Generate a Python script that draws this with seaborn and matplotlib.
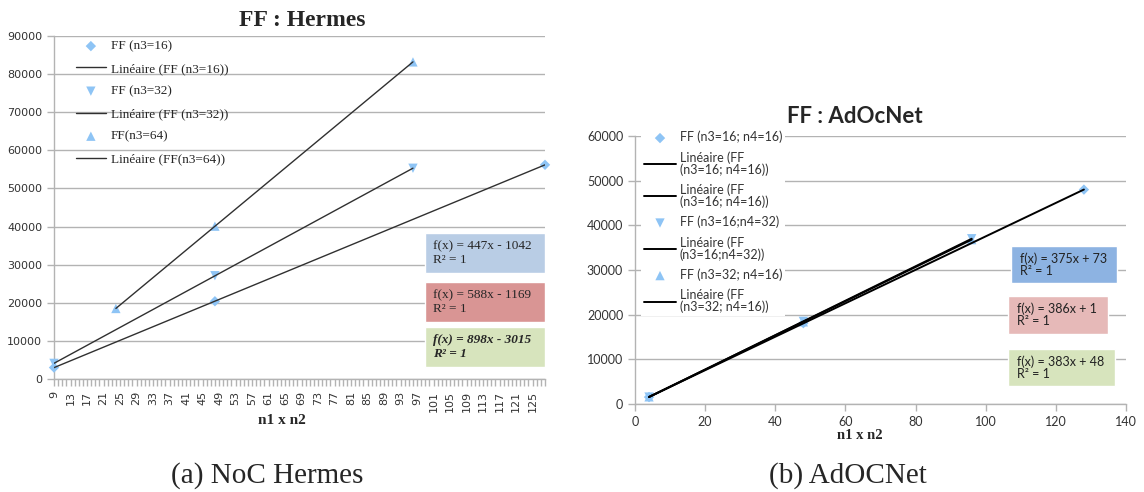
import numpy as np
import pandas as pd
import seaborn as sns
import matplotlib.pyplot as plt
from matplotlib.patches import Rectangle

sns.set_theme(style="white")
plt.rcParams['font.family'] = ['DejaVu Sans']

# ---- data ----
# Hermes
herm_x16 = [9, 48, 128]
herm_y16 = [3000, 20400, 56200]
herm_x32 = [9, 48, 96]
herm_y32 = [4100, 27100, 55300]
herm_x64 = [24, 48, 96]
herm_y64 = [18500, 40100, 83200]
herm_eq = ["f(x) = 447x - 1042\nR² = 1", "f(x) = 588x - 1169\nR² = 1", "f(x) = 898x - 3015\nR² = 1"]

# AdOcNet
adoc_x1 = [4, 48, 128]
adoc_y1 = [1550, 18100, 48000]
adoc_x2 = [4, 48, 96]
adoc_y2 = [1550, 18500, 37000]
adoc_x3 = [4, 48, 96]
adoc_y3 = [1600, 18400, 36800]
adoc_eq = ["f(x) = 375x + 73\nR² = 1", "f(x) = 386x + 1\nR² = 1", "f(x) = 383x + 48\nR² = 1"]

MARK = "#8ec4f5"
GRID = "#b3b3b3"
BOX_BLUE_L, BOX_RED_L, BOX_GREEN_L = "#b9cde5", "#d99594", "#d7e4bd"
BOX_BLUE_R, BOX_RED_R, BOX_GREEN_R = "#8db3e2", "#e6b9b8", "#d7e4bd"

W, H = 1144, 492
fig = plt.figure(figsize=(W / 100, H / 100), dpi=100)


def axes_px(x0, y0, x1, y1):
    return fig.add_axes([x0 / W, 1 - y1 / H, (x1 - x0) / W, (y1 - y0) / H])


def style_axes(ax):
    for s in ['top', 'right']:
        ax.spines[s].set_visible(False)
    for s in ['left', 'bottom']:
        ax.spines[s].set_color(GRID)
        ax.spines[s].set_linewidth(1)
    ax.yaxis.grid(True, color=GRID, lw=1)
    ax.xaxis.grid(False)
    ax.tick_params(axis='both', which='both', direction='out', color=GRID, length=5, width=1,
                   left=True, bottom=True)
    ax.set_facecolor('white')


def series(ax, x, y, marker, ms, lab, lw, lcol):
    df = pd.DataFrame({'x': x, 'y': y})
    sns.scatterplot(data=df, x='x', y='y', ax=ax, marker=marker, s=ms, color=MARK,
                    edgecolor='none', label=lab, clip_on=False, zorder=3)
    sns.regplot(data=df, x='x', y='y', ax=ax, scatter=False, ci=None, truncate=True,
                line_kws={'color': lcol, 'lw': lw, 'zorder': 4})
    return ax.collections[-1], ax.lines[-1]


# ---------------- left: Hermes ----------------
axL = axes_px(54, 36, 545, 379)
style_axes(axL)
h16, l16 = series(axL, herm_x16, herm_y16, 'D', 28, "FF (n3=16)", 1.0, "#303030")
h32, l32 = series(axL, herm_x32, herm_y32, 'v', 45, "FF (n3=32)", 1.0, "#303030")
h64, l64 = series(axL, herm_x64, herm_y64, '^', 45, "FF(n3=64)", 1.0, "#303030")
axL.set_xlim(9, 128)
axL.set_ylim(0, 90000)
axL.set_yticks(np.arange(0, 90001, 10000))
axL.set_xticks(np.arange(9, 126, 4))
axL.set_xticks(np.arange(9, 129, 1), minor=True)
axL.tick_params(axis='x', which='both', labelrotation=90, labelsize=8, labelcolor="#333333")
axL.tick_params(axis='y', labelsize=8, labelcolor="#333333")
axL.set_xlabel("n1 x n2", family="Liberation Serif", fontweight='bold', fontsize=11)
axL.xaxis.set_label_coords((282 - 54) / 491, -(414 - 379) / 343)
axL.set_ylabel("")
axL.legend([h16, l16, h32, l32, h64, l64],
           ["FF (n3=16)", "Linéaire (FF (n3=16))", "FF (n3=32)", "Linéaire (FF (n3=32))",
            "FF(n3=64)", "Linéaire (FF(n3=64))"],
           loc='upper left', bbox_to_anchor=(0.02, 1.022), frameon=False,
           prop={'family': 'Liberation Serif', 'size': 9.5}, labelspacing=0.78,
           handlelength=2.3, handletextpad=0.35)

boxes_L = [(0.309, 0.426, BOX_BLUE_L), (0.165, 0.283, BOX_RED_L), (0.035, 0.151, BOX_GREEN_L)]
for (y0, y1, col), txt, k in zip(boxes_L, herm_eq, range(3)):
    axL.add_patch(Rectangle((0.756, y0), 0.244, y1 - y0, transform=axL.transAxes,
                            facecolor=col, edgecolor='white', lw=1, zorder=5))
    axL.text(0.772, (y0 + y1) / 2, txt, transform=axL.transAxes, va='center', ha='left',
             family='Liberation Serif', fontsize=9.5, linespacing=1.25, zorder=6,
             fontweight='bold' if k == 2 else 'normal',
             fontstyle='italic' if k == 2 else 'normal')

fig.text(302 / W, 1 - 21 / H, "FF : Hermes", ha='center', va='center',
         family='Liberation Serif', fontweight='bold', fontsize=17)

# ---------------- right: AdOcNet ----------------
axR = axes_px(635, 136, 1126, 404)
style_axes(axR)
a1, m1 = series(axR, adoc_x1, adoc_y1, 'D', 28, "a", 1.4, "black")
a2, m2 = series(axR, adoc_x2, adoc_y2, 'v', 45, "b", 1.4, "black")
a3, m3 = series(axR, adoc_x3, adoc_y3, '^', 45, "c", 1.4, "black")
axR.set_xlim(0, 140)
axR.set_ylim(0, 60000)
axR.set_yticks(np.arange(0, 60001, 10000))
axR.set_xticks(np.arange(0, 141, 20))
for lab in axR.get_xticklabels() + axR.get_yticklabels():
    lab.set_family('Lato')
axR.tick_params(axis='both', labelsize=9, labelcolor="#333333")
axR.set_xlabel("n1 x n2", family="Liberation Serif", fontweight='bold', fontsize=10.5)
axR.xaxis.set_label_coords((860 - 635) / 491, -(429 - 404) / 268)
axR.set_ylabel("")
leg = axR.legend([a1, m1, m1, a2, m2, a3, m3],
                 ["FF (n3=16; n4=16)", "Linéaire (FF\n(n3=16; n4=16))", "Linéaire (FF\n(n3=16; n4=16))",
                  "FF (n3=16;n4=32)", "Linéaire (FF\n(n3=16;n4=32))", "FF (n3=32; n4=16)",
                  "Linéaire (FF\n(n3=32; n4=16))"],
                 loc='upper left', bbox_to_anchor=(0.0, 1.052), frameon=True, fancybox=False,
                 prop={'family': 'Lato', 'size': 9}, labelspacing=0.62,
                 handlelength=2.6, handletextpad=0.3, borderpad=0.2)
leg.get_frame().set_facecolor('white')
leg.get_frame().set_edgecolor('none')
leg.get_frame().set_alpha(1)
leg.set_zorder(2.5)
for t in leg.get_texts():
    t.set_color("#333333")
    t.set_linespacing(0.95)

boxes_R = [(0.765, 0.982, 0.4525, 0.5895, BOX_BLUE_R), (0.759, 0.964, 0.262, 0.4025, BOX_RED_R),
           (0.759, 0.977, 0.0675, 0.205, BOX_GREEN_R)]
for (x0, x1, y0, y1, col), txt in zip(boxes_R, adoc_eq):
    axR.add_patch(Rectangle((x0, y0), x1 - x0, y1 - y0, transform=axR.transAxes,
                            facecolor=col, edgecolor='white', lw=1, zorder=5))
    axR.text(x0 + 0.02, (y0 + y1) / 2, txt, transform=axR.transAxes, va='center', ha='left',
             family='Lato', fontsize=9, linespacing=1.0, zorder=6, color="#222222")

fig.text(855 / W, 1 - 116 / H, "FF : AdOcNet", ha='center', va='center',
         family='Lato', fontweight='bold', fontsize=16)

# captions
fig.text(267 / W, 1 - 476 / H, "(a) NoC Hermes", ha='center', va='center',
         family='Liberation Serif', fontsize=21)
fig.text(848 / W, 1 - 476 / H, "(b) AdOCNet", ha='center', va='center',
         family='Liberation Serif', fontsize=21)

fig.savefig("out.png", dpi=100, facecolor='white')
